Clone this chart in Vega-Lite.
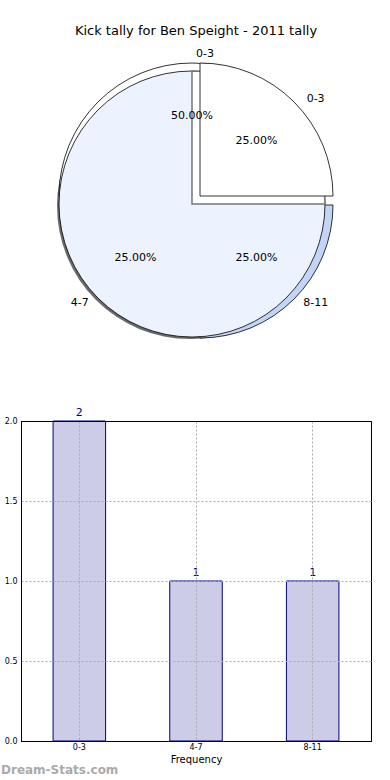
{
  "$schema": "https://vega.github.io/schema/vega-lite/v6.json",
  "padding": {"top": 25, "left": 0, "right": 0, "bottom": 0},
  "datasets": {
    "tally": [
      {"range": "0-3", "kicks": 2, "share": 0.5},
      {"range": "4-7", "kicks": 1, "share": 0.25},
      {"range": "8-11", "kicks": 1, "share": 0.25}
    ],
    "front": [
      {"range": "0-3", "share": 0.25}
    ]
  },
  "config": {"font": "DejaVu Sans", "view": {"stroke": null}},
  "spacing": 52,
  "vconcat": [
    {
      "width": 342,
      "height": 300,
      "title": {"text": "Kick tally for Ben Speight - 2011 tally", "fontSize": 13, "fontWeight": "normal", "offset": 10, "dx": 4, "color": "black"},
      "resolve": {"scale": {"theta": "independent"}},
      "layer": [
        {
          "data": {"name": "tally"},
          "mark": {"type": "arc", "outerRadius": 133, "fill": "#6a6a6a", "xOffset": -2, "yOffset": 2},
          "encoding": {"theta": {"aggregate": "sum", "field": "kicks", "type": "quantitative"}}
        },
        {
          "data": {"name": "tally"},
          "transform": [
            {"stack": "kicks", "offset": "normalize", "groupby": [], "sort": [{"field": "range"}], "as": ["s0", "s1"]},
            {"filter": "datum.range == '0-3'"}
          ],
          "mark": {"type": "arc", "outerRadius": 133, "fill": "white", "stroke": "black", "strokeWidth": 0.8, "yOffset": -8},
          "encoding": {
            "theta": {"field": "s0", "type": "quantitative", "scale": {"domain": [0, 1], "range": [1.5708, -4.7124]}},
            "theta2": {"field": "s1"}
          }
        },
        {
          "data": {"name": "tally"},
          "transform": [
            {"stack": "kicks", "offset": "normalize", "groupby": [], "sort": [{"field": "range"}], "as": ["s0", "s1"]},
            {"filter": "datum.range == '8-11'"}
          ],
          "mark": {"type": "arc", "outerRadius": 133, "fill": "#c2d5f6", "stroke": "black", "strokeWidth": 0.8, "xOffset": 8, "yOffset": 1},
          "encoding": {
            "theta": {"field": "s0", "type": "quantitative", "scale": {"domain": [0, 1], "range": [1.5708, -4.7124]}},
            "theta2": {"field": "s1"}
          }
        },
        {
          "data": {"name": "tally"},
          "mark": {"type": "arc", "outerRadius": 133, "fill": "#ecf2fe", "stroke": "black", "strokeWidth": 0.8},
          "encoding": {"theta": {"aggregate": "sum", "field": "kicks", "type": "quantitative"}}
        },
        {
          "data": {"name": "front"},
          "mark": {"type": "arc", "outerRadius": 133, "fill": "white", "stroke": "#777777", "strokeWidth": 1.5},
          "encoding": {
            "theta": {"field": "share", "type": "quantitative", "stack": true, "scale": {"domain": [0, 1], "range": [1.5708, -4.7124]}}
          }
        },
        {
          "data": {"name": "front"},
          "mark": {"type": "arc", "outerRadius": 133, "fill": "white", "stroke": "black", "strokeWidth": 0.8, "xOffset": 8, "yOffset": -8},
          "encoding": {
            "theta": {"field": "share", "type": "quantitative", "stack": true, "scale": {"domain": [0, 1], "range": [1.5708, -4.7124]}}
          }
        },
        {
          "data": {"name": "tally"},
          "mark": {"type": "text", "radius": 80, "fontSize": 11, "color": "black",
            "xOffset": {"expr": "datum.range == '8-11' ? 8 : 0"},
            "yOffset": {"expr": "datum.range == '0-3' ? -8 : -3"}},
          "encoding": {
            "theta": {"field": "kicks", "type": "quantitative", "stack": true, "scale": {"range": [1.5708, -4.7124]}},
            "order": {"field": "range", "type": "ordinal"},
            "text": {"field": "share", "format": ".2%"}
          }
        },
        {
          "data": {"name": "tally"},
          "mark": {"type": "text", "radius": 146, "fontSize": 11, "color": "black",
            "align": {"expr": "datum.range == '4-7' ? 'right' : 'left'"},
            "xOffset": {"expr": "datum.range == '8-11' ? 8 : (datum.range == '0-3' ? 4 : 0)"},
            "yOffset": {"expr": "datum.range == '0-3' ? -4 : -4"}},
          "encoding": {
            "theta": {"field": "kicks", "type": "quantitative", "stack": true, "scale": {"range": [1.5708, -4.7124]}},
            "order": {"field": "range", "type": "ordinal"},
            "text": {"field": "range"}
          }
        },
        {
          "data": {"name": "front"},
          "mark": {"type": "text", "radius": 80, "fontSize": 11, "color": "black", "xOffset": 8, "yOffset": -6},
          "encoding": {
            "theta": {"field": "share", "type": "quantitative", "stack": true, "scale": {"domain": [0, 1], "range": [1.5708, -4.7124]}},
            "text": {"field": "share", "format": ".2%"}
          }
        },
        {
          "data": {"name": "front"},
          "mark": {"type": "text", "radius": 148, "fontSize": 11, "color": "black", "align": "left", "xOffset": 10, "yOffset": 0},
          "encoding": {
            "theta": {"field": "share", "type": "quantitative", "stack": true, "scale": {"domain": [0, 1], "range": [1.5708, -4.7124]}},
            "text": {"field": "range"}
          }
        }
      ]
    },
    {
      "data": {"name": "tally"},
      "width": 350,
      "height": 320,
      "view": {"stroke": "black", "strokeWidth": 1},
      "title": {"text": "Dream-Stats.com", "orient": "bottom", "anchor": "start", "dx": 0, "fontSize": 12, "fontWeight": "bold", "color": "#aaaaaa", "offset": 1},
      "encoding": {
        "x": {
          "field": "range", "type": "nominal", "sort": null,
          "scale": {"paddingInner": 0.55, "paddingOuter": 0.275},
          "axis": {"title": "Frequency", "labelAngle": 0, "labelFontSize": 8, "labelColor": "black", "titleFontSize": 10, "titleFontWeight": "normal", "titleColor": "black", "grid": true, "gridDash": [2, 2], "gridColor": "#aaaaaa", "domainColor": "black", "ticks": false, "labelPadding": 2, "titlePadding": 3, "zindex": 1}
        },
        "y": {
          "field": "kicks", "type": "quantitative",
          "scale": {"domain": [0, 2]},
          "axis": {"title": null, "values": [0, 0.5, 1, 1.5, 2], "format": ".1f", "labelFontSize": 8, "labelColor": "black", "grid": true,
            "gridDash": {"condition": {"test": "datum.value == 2 || datum.value == 0", "value": []}, "value": [2, 2]},
            "gridColor": {"condition": {"test": "datum.value == 2 || datum.value == 0", "value": "black"}, "value": "#aaaaaa"},
            "domainColor": "black", "ticks": false, "labelPadding": 4, "minExtent": 20, "maxExtent": 20, "zindex": 1}
        }
      },
      "layer": [
        {"mark": {"type": "bar", "fill": "#cccce6", "stroke": "#000080", "strokeWidth": 1}},
        {
          "mark": {"type": "text", "baseline": "bottom", "dy": -3, "color": "#000080", "fontSize": 11},
          "encoding": {"text": {"field": "kicks", "type": "quantitative"}}
        }
      ]
    }
  ]
}
